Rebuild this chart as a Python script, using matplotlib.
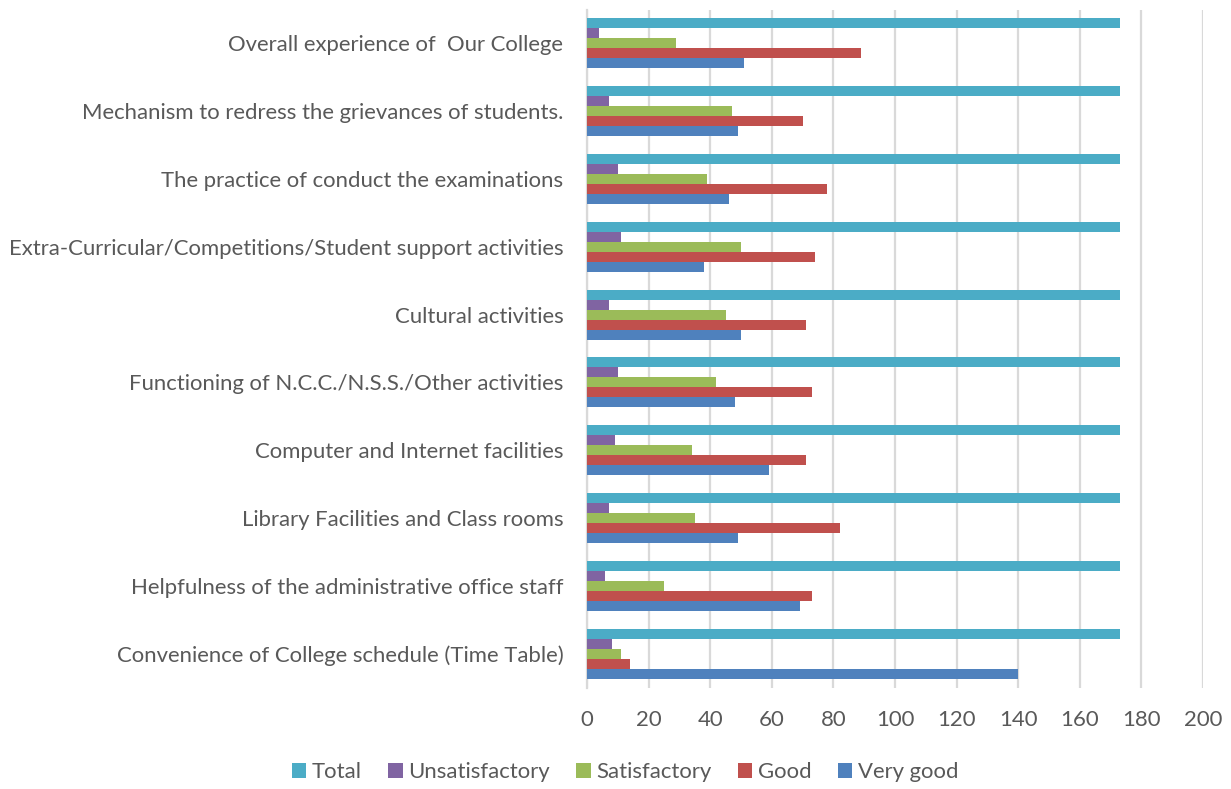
import numpy as np
import matplotlib.pyplot as plt

plt.rcParams['font.family'] = ['Lato', 'DejaVu Sans']

# categories, bottom to top as drawn
categories = [
    "Convenience of College schedule (Time Table)",
    "Helpfulness of the administrative office staff",
    "Library Facilities and Class rooms",
    "Computer and Internet facilities",
    "Functioning of N.C.C./N.S.S./Other activities",
    "Cultural activities",
    "Extra-Curricular/Competitions/Student support activities",
    "The practice of conduct the examinations",
    "Mechanism to redress the grievances of students.",
    "Overall experience of  Our College",
]

very_good = [140, 69, 49, 59, 48, 50, 38, 46, 49, 51]
good = [14, 73, 82, 71, 73, 71, 74, 78, 70, 89]
satisfactory = [11, 25, 35, 34, 42, 45, 50, 39, 47, 29]
unsatisfactory = [8, 6, 7, 9, 10, 7, 11, 10, 7, 4]
total = [173] * 10

series = [
    ("Very good", very_good, "#4F81BD"),
    ("Good", good, "#C0504D"),
    ("Satisfactory", satisfactory, "#9BBB59"),
    ("Unsatisfactory", unsatisfactory, "#8064A2"),
    ("Total", total, "#4BACC6"),
]

fig = plt.figure(figsize=(12.31, 7.89), dpi=100)
ax = fig.add_axes([587 / 1231, 1 - 687.5 / 789, (1203 - 587) / 1231, (687.5 - 9.5) / 789])

y = np.arange(len(categories))
h = 0.147
bars = {}
for i, (name, vals, col) in enumerate(series):
    bars[name] = ax.barh(y + (i - 2) * h, vals, height=h, color=col, zorder=3)

ax.set_xlim(0, 200)
ax.set_ylim(-0.5, len(categories) - 0.5)
ax.set_xticks(range(0, 201, 20))
ax.set_yticks(y)
ax.set_yticklabels(categories)
ax.grid(axis="x", color="#d9d9d9", linewidth=1.6, zorder=0)
for s in ["top", "right", "bottom"]:
    ax.spines[s].set_visible(False)
ax.spines["left"].set_color("#d9d9d9")
ax.spines["left"].set_linewidth(1.6)
ax.tick_params(axis="both", length=0, labelsize=15.9, colors="#595959")
ax.tick_params(axis="y", pad=17)
ax.tick_params(axis="x", pad=16)

order = ["Total", "Unsatisfactory", "Satisfactory", "Good", "Very good"]
leg = fig.legend([bars[n] for n in order], order, loc="center", bbox_to_anchor=(625 / 1231, 1 - 772 / 789),
                 ncol=5, frameon=False, fontsize=15.9, handlelength=0.65, handleheight=0.65,
                 handletextpad=0.25, columnspacing=1.2)
for t in leg.get_texts():
    t.set_color("#595959")

fig.savefig("out.png", dpi=100)
